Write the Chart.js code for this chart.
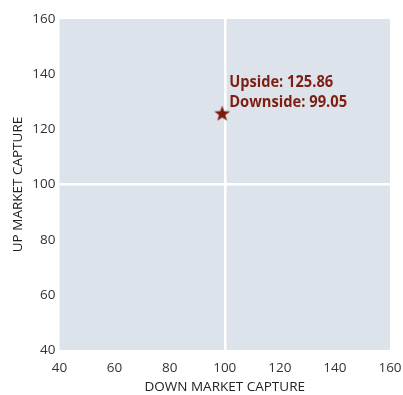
<!DOCTYPE html>
<html>
<head>
<meta charset="utf-8">
<script src="https://cdn.jsdelivr.net/npm/chart.js@4.4.1/dist/chart.umd.min.js"></script>
<style>
  html, body { margin: 0; padding: 0; background: #ffffff; }
  #wrap { width: 403px; height: 395px; }
</style>
</head>
<body>
<div id="wrap"><canvas id="c" width="403" height="395"></canvas></div>
<script>
// Fund capture ratios (percent)
const downCapture = [99.05];
const upCapture = [125.86];
const axisMin = 40;
const axisMax = 160;
const axisStep = 20;
const crossValue = 100;
const xTitle = 'DOWN MARKET CAPTURE';
const yTitle = 'UP MARKET CAPTURE';

const markColor = '#7a1a0d';
const labelColor = '#7e1e10';

// filled five-point star used as the point marker
function makeStar(outer, inner, color) {
  const size = Math.ceil(outer * 2 + 2);
  const cv = document.createElement('canvas');
  cv.width = size; cv.height = size;
  const g = cv.getContext('2d');
  const c = size / 2;
  g.beginPath();
  for (let i = 0; i < 10; i++) {
    const r = i % 2 === 0 ? outer : inner;
    const a = -Math.PI / 2 + i * Math.PI / 5;
    const px = c + r * Math.cos(a), py = c + r * Math.sin(a) + 0.8;
    if (i === 0) g.moveTo(px, py); else g.lineTo(px, py);
  }
  g.closePath();
  g.fillStyle = color;
  g.fill();
  return cv;
}
const starImg = makeStar(8.3, 3.4, markColor);

const points = downCapture.map((d, i) => ({ x: d, y: upCapture[i] }));

const plotBackground = {
  id: 'plotBackground',
  beforeDraw(chart) {
    const { ctx, chartArea: a } = chart;
    ctx.save();
    ctx.fillStyle = '#dde3eb';
    ctx.fillRect(a.left, a.top, a.right - a.left, a.bottom - a.top);
    ctx.restore();
  }
};

const valueLabels = {
  id: 'valueLabels',
  afterDatasetsDraw(chart) {
    const { ctx } = chart;
    const meta = chart.getDatasetMeta(0);
    meta.data.forEach((pt, i) => {
      ctx.save();
      ctx.fillStyle = labelColor;
      ctx.font = 'bold 15.5px "Open Sans", sans-serif';
      ctx.textBaseline = 'alphabetic';
      ctx.textAlign = 'left';
      const l1 = 'Upside: ' + upCapture[i].toFixed(2);
      const l2 = 'Downside: ' + downCapture[i].toFixed(2);
      ctx.fillText(l1, pt.x + 7, pt.y - 26, 104);
      ctx.fillText(l2, pt.x + 7, pt.y - 6, 118);
      ctx.restore();
    });
  }
};

const tickFont = { family: '"Open Sans", sans-serif', size: 13.5 };
const titleFont = { family: '"Open Sans", sans-serif', size: 13.5 };
const gridCross = {
  display: true,
  drawTicks: false,
  color: (ctx) => (ctx.tick && ctx.tick.value === crossValue ? '#ffffff' : 'rgba(0,0,0,0)'),
  lineWidth: (ctx) => (ctx.tick && ctx.tick.value === crossValue ? 2.5 : 0)
};

new Chart(document.getElementById('c'), {
  type: 'scatter',
  data: {
    datasets: [{
      data: points,
      pointStyle: starImg,
      pointRadius: 8,
      pointHoverRadius: 8,
      backgroundColor: markColor,
      borderColor: markColor
    }]
  },
  options: {
    responsive: false,
    animation: false,
    devicePixelRatio: 1,
    layout: { padding: { top: 19, right: 13, left: 0, bottom: 0 } },
    plugins: { legend: { display: false }, tooltip: { enabled: false } },
    scales: {
      x: {
        type: 'linear',
        min: axisMin, max: axisMax,
        border: { display: false },
        grid: gridCross,
        ticks: { stepSize: axisStep, color: '#333333', font: tickFont, padding: 10, maxRotation: 0 },
        title: { display: true, text: xTitle, color: '#222222', font: titleFont, padding: { top: 0, bottom: 0 } },
        afterFit(s) { s.height = 45; s.paddingLeft = 0; s.paddingRight = 0; }
      },
      y: {
        type: 'linear',
        min: axisMin, max: axisMax,
        border: { display: false },
        grid: gridCross,
        ticks: { stepSize: axisStep, color: '#333333', font: tickFont, padding: 4 },
        title: { display: true, text: yTitle, color: '#222222', font: titleFont, padding: { top: 10, bottom: 4 } },
        afterFit(s) { s.width = 59.5; s.paddingTop = 0; s.paddingBottom = 0; }
      }
    }
  },
  plugins: [plotBackground, valueLabels]
});
</script>
</body>
</html>
